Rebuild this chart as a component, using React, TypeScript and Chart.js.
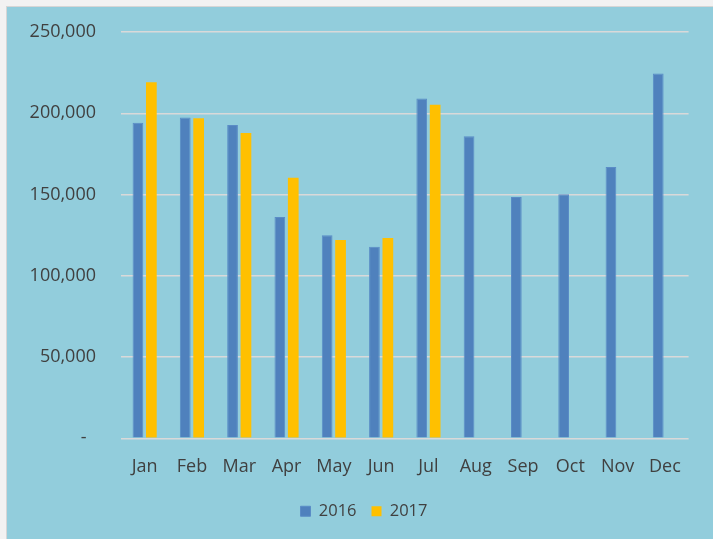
import React, { useEffect, useRef } from "react";
import { Chart, registerables } from "chart.js";

Chart.register(...registerables);

const months = ["Jan", "Feb", "Mar", "Apr", "May", "Jun", "Jul", "Aug", "Sep", "Oct", "Nov", "Dec"];
const series2016 = [194100, 197400, 192700, 136100, 125000, 117900, 209100, 185900, 148400, 150200, 167000, 224500];
const series2017 = [219100, 196900, 187800, 160300, 122000, 123200, 205200, null, null, null, null, null];
const yTicks = [0, 50000, 100000, 150000, 200000, 250000];

const FONT = "'Open Sans', 'DejaVu Sans', sans-serif";
const TEXT = "#404040";

const noPad = (scale: any) => {
  scale.paddingTop = 0;
  scale.paddingBottom = 0;
};

export default function App() {
  const ref = useRef<HTMLCanvasElement | null>(null);

  useEffect(() => {
    if (!ref.current) return;
    const chart = new Chart(ref.current, {
      type: "bar",
      data: {
        labels: months,
        datasets: [
          {
            label: "2016",
            data: series2016,
            backgroundColor: "#4F81BD",
            borderColor: "#5A8CC6",
            borderWidth: 1,
            categoryPercentage: 0.567,
            barPercentage: 0.8,
          },
          {
            label: "2017",
            data: series2017,
            backgroundColor: "#FFC000",
            borderColor: "#FFC000",
            borderWidth: 0,
            categoryPercentage: 0.567,
            barPercentage: 0.8,
          },
        ],
      },
      options: {
        responsive: false,
        animation: false,
        devicePixelRatio: 1,
        layout: { padding: { left: 0, right: 0, top: 25, bottom: 9.5 } },
        plugins: {
          tooltip: { enabled: false },
          legend: {
            position: "bottom",
            labels: {
              boxWidth: 10,
              boxHeight: 10,
              padding: 15,
              color: TEXT,
              font: { family: FONT, size: 16.5 },
            },
          },
        },
        scales: {
          x: {
            grid: { display: false },
            border: { display: false },
            ticks: {
              color: TEXT,
              font: { family: FONT, size: 18 },
              padding: 10,
              maxRotation: 0,
              autoSkip: false,
            },
            afterFit: (scale: any) => {
              scale.height = 49.7;
              scale.paddingLeft = 0;
              scale.paddingRight = 0;
            },
          },
          y: {
            min: 0,
            max: 250000,
            afterBuildTicks: (scale: any) => {
              scale.ticks = yTicks.map((v) => ({ value: v }));
            },
            grid: { color: "#D9D9D9", lineWidth: 1.5, drawTicks: false },
            border: { display: false },
            ticks: {
              color: TEXT,
              font: { family: FONT, size: 18 },
              padding: 25,
              callback: (v: any) => (Number(v) === 0 ? "-  " : Number(v).toLocaleString("en-US")),
            },
            afterFit: (scale: any) => {
              scale.width = 114;
              noPad(scale);
            },
          },
          yRight: {
            position: "right",
            display: true,
            grid: { display: false },
            border: { display: false },
            ticks: { display: false },
            afterFit: (scale: any) => {
              scale.width = 32.4;
              noPad(scale);
            },
          },
        },
      },
    });
    return () => chart.destroy();
  }, []);

  return (
    <div
      style={{
        position: "fixed",
        left: 0,
        top: 0,
        width: 713,
        height: 539,
        background: "#F2F2F2",
        overflow: "hidden",
      }}
    >
      <div
        style={{
          position: "absolute",
          left: 6,
          top: 6,
          width: 730,
          height: 540,
          border: "1px solid #D6D6D6",
          background: "#92CDDC",
        }}
      >
        <canvas ref={ref} width={714} height={532} style={{ display: "block", width: 714, height: 532 }} />
      </div>
    </div>
  );
}
